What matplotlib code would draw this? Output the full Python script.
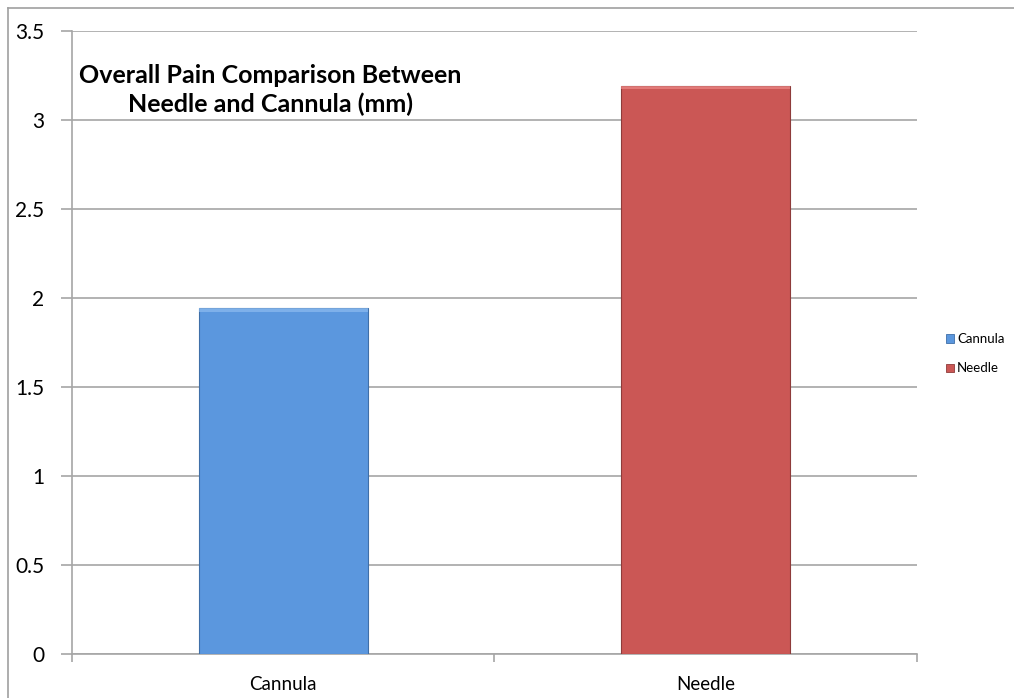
import matplotlib
matplotlib.use("Agg")
import matplotlib.pyplot as plt
from matplotlib.patches import Patch, Rectangle
from matplotlib.lines import Line2D

categories = ["Cannula", "Needle"]
pain_scores = [1.94, 3.19]
bar_colors = ["#5B97DE", "#CB5755"]
edge_colors = ["#3F6FA8", "#8E3B3A"]
highlight_colors = ["#8DBCF0", "#EE8A88"]
y_ticks = [0, 0.5, 1, 1.5, 2, 2.5, 3, 3.5]
y_tick_labels = ["0", "0.5", "1", "1.5", "2", "2.5", "3", "3.5"]
title_text = "Overall Pain Comparison Between\nNeedle and Cannula (mm)"

plt.rcParams["font.family"] = ["Lato", "DejaVu Sans"]

fig = plt.figure(figsize=(10.14, 6.98), dpi=100)
ax = fig.add_axes([0.0710, 0.0635, 0.8333, 0.8926])

grid_color = "#A6A6A6"
x = list(range(len(categories)))
bars = ax.bar(x, pain_scores, width=0.4, color=bar_colors, zorder=3,
              edgecolor=edge_colors, linewidth=0.8)

# soft bevel: lighter strip along the top of each bar
for b, hc in zip(bars, highlight_colors):
    ax.add_patch(Rectangle((b.get_x(), b.get_height() - 0.02), b.get_width(), 0.02,
                           facecolor=hc, edgecolor="none", zorder=4, alpha=0.7))

ax.set_xlim(-0.5, len(categories) - 0.5)
ax.set_ylim(0, 3.5)
ax.set_yticks(y_ticks)
ax.set_yticklabels(y_tick_labels, fontsize=15)
ax.yaxis.grid(True, color=grid_color, linewidth=1.2, zorder=0)
ax.tick_params(axis="y", length=8, color=grid_color, width=1.2, pad=12)

ax.set_xticks(x)
ax.set_xticklabels(categories, fontsize=13.5)
ax.set_xticks([i - 0.5 for i in range(len(categories) + 1)], minor=True)
ax.tick_params(axis="x", which="major", length=0, pad=16)
ax.tick_params(axis="x", which="minor", length=6, color=grid_color, width=1.2)

for side in ["top", "right"]:
    ax.spines[side].set_visible(False)
for side in ["left", "bottom"]:
    ax.spines[side].set_color(grid_color)
    ax.spines[side].set_linewidth(1.2)

ax.text(0.235, 0.905, title_text, transform=ax.transAxes, ha="center", va="center",
        fontsize=18, fontweight="bold", linespacing=1.3)

handles = [Patch(facecolor=c, edgecolor=e, linewidth=0.6) for c, e in zip(bar_colors, edge_colors)]
leg = fig.legend(handles, categories, loc="center left", bbox_to_anchor=(946 / 1014, 0.493),
                 frameon=False, fontsize=9.5, handlelength=0.6, handleheight=0.6,
                 handletextpad=0.25, labelspacing=1.3, borderpad=0, borderaxespad=0)

# outer chart frame
fig.add_artist(Line2D([8 / 1014, 1], [1 - 8 / 698, 1 - 8 / 698], transform=fig.transFigure,
                      color="#A0A0A0", linewidth=1.2))
fig.add_artist(Line2D([8 / 1014, 8 / 1014], [0, 1 - 8 / 698], transform=fig.transFigure,
                      color="#A0A0A0", linewidth=1.2))

fig.savefig("out.png", dpi=100, facecolor="white")
